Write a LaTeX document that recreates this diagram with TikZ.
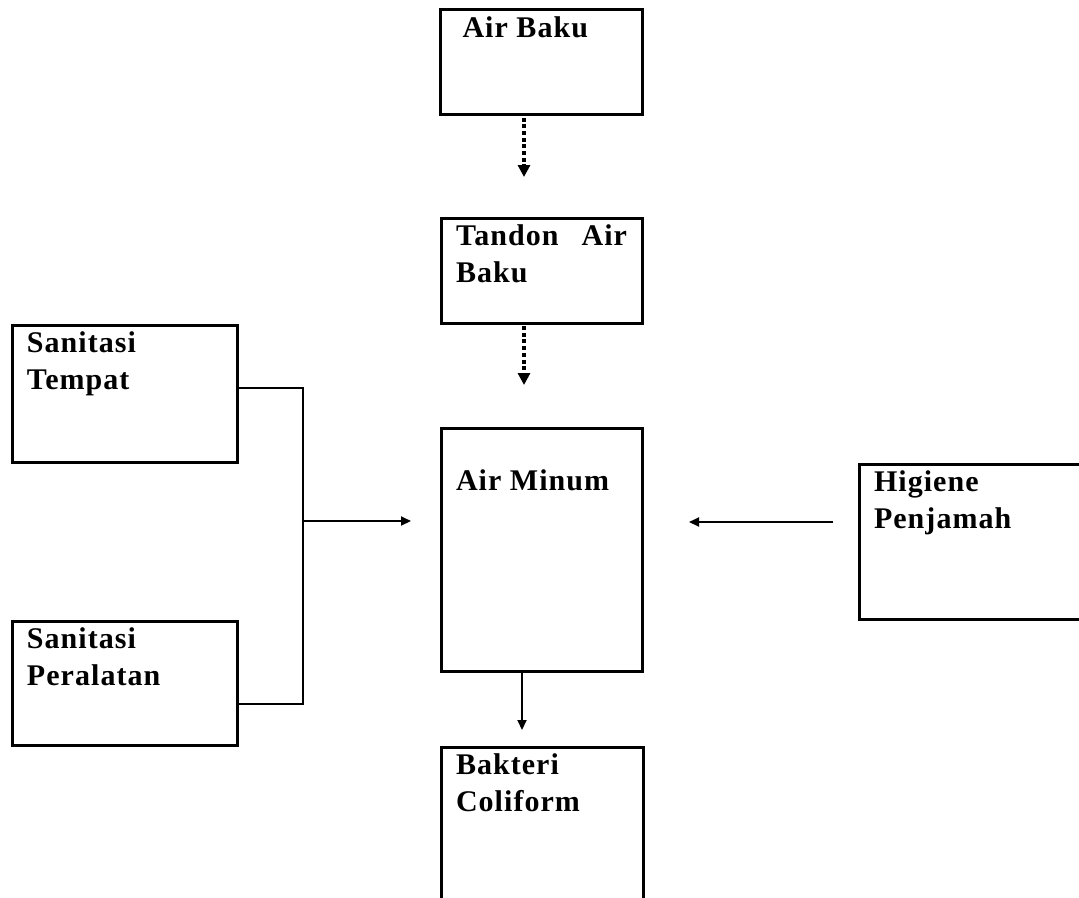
\documentclass[tikz,border=0pt]{standalone}
\usepackage{fontspec}
\setmainfont[LetterSpace=3.5]{Liberation Serif}
\usetikzlibrary{arrows.meta,positioning}

\begin{document}
\begin{tikzpicture}[
  x=1pt, y=-1pt,
  box/.style={draw, line width=3pt, anchor=north west, outer sep=0pt,
    inner xsep=15pt, inner ysep=7pt, font=\fontsize{30}{37}\selectfont\bfseries},
  link/.style={line width=2pt},
  flow/.style={link, -{Triangle[length=10pt,width=9pt]}},
  dotflow/.style={line width=4pt, dash pattern=on 4pt off 2.7pt,
    -{Triangle[length=12pt,width=12pt]}}
]
\useasboundingbox (0,0) rectangle (1079,897);

% boxes
\node[box] (baku) at (440.5,9.5) {\parbox[t][91pt][t]{172pt}{\hspace*{7pt}Air Baku}};
\node[box] (tandon) at (441,218) {\parbox[t][91pt][t]{171pt}{Tandon\hfill Air\\Baku}};
\node[box] (minum) at (441,428) {\parbox[t][229pt][t]{171pt}{\vspace*{35pt}Air Minum}};
\node[box] (bakteri) at (441,747) {\parbox[t][186pt][t]{172pt}{Bakteri\\Coliform}};
\node[box] (tempat) at (12,325) {\parbox[t][123pt][t]{195pt}{Sanitasi\\Tempat}};
\node[box] (peralatan) at (12,621) {\parbox[t][110pt][t]{195pt}{Sanitasi\\Peralatan}};
\node[box] (higiene) at (859,464) {\parbox[t][141pt][t]{220pt}{Higiene\\Penjamah}};

% free ends of the arrows
\coordinate (d1) at (524,177);
\coordinate (d2) at (524,385);
\coordinate (d3) at (522,730);
\coordinate (j1) at (303,388);
\coordinate (j2) at (303,704);
\coordinate (jm) at (303,521);
\coordinate (tipL) at (411,521);
\coordinate (tipR) at (689,522);

% connectors
\draw[dotflow] ([yshift=-3pt]baku.south -| d1) -- (d1);
\draw[dotflow] ([yshift=-3pt]tandon.south -| d2) -- (d2);
\draw[flow] (minum.south -| d3) -- (d3);
\draw[link] (tempat.east |- j1) -- (j1) -- (j2) -- (peralatan.east |- j2);
\draw[flow] (jm) -- (tipL);
\draw[flow] ([xshift=-26pt]higiene.west |- tipR) -- (tipR);
\end{tikzpicture}
\end{document}
